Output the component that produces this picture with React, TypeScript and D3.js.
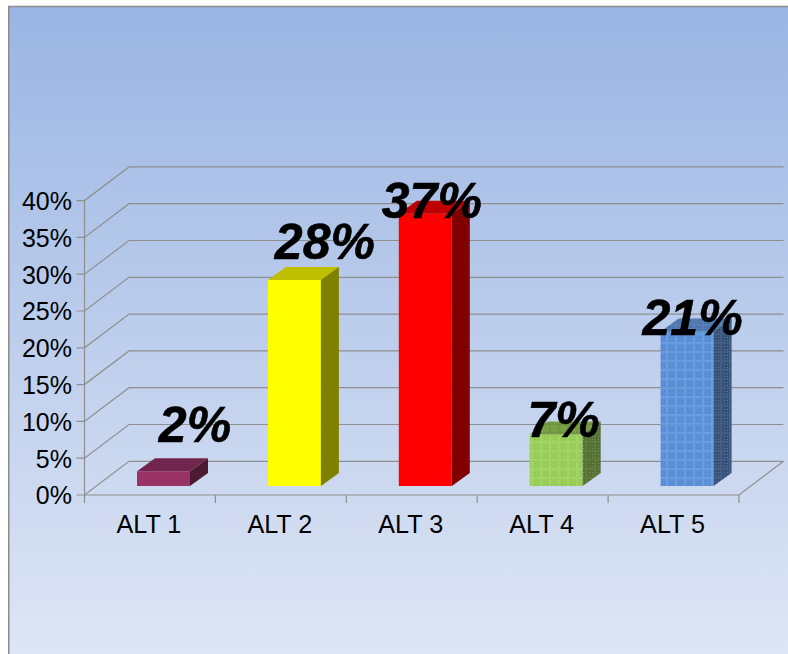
import React from "react";
import * as d3 from "d3";

const categories = ["ALT 1", "ALT 2", "ALT 3", "ALT 4", "ALT 5"];
const values = [2, 28, 37, 7, 21];
const valueTicks = [0, 5, 10, 15, 20, 25, 30, 35, 40];
const frontColors = ["#993366", "#ffff00", "#ff0000", "url(#pg-front)", "url(#pb-front)"];
const topColors = ["#73264d", "#bfbf00", "#bf0000", "url(#pg-top)", "url(#pb-top)"];
const sideColors = ["#4d1a33", "#808000", "#800000", "url(#pg-side)", "url(#pb-side)"];
const barOpacity = [1, 1, 1, 0.93, 0.93];
// hand-placed label offsets of the original, relative to the bar's front centre and top
const labelDx = [31.5, 30.5, 6.5, 7.5, 5.5];
const labelDy = [-29, -21, 4, 3, 4];

const W = 788, H = 654;
const DEPTH_X = 44.5, DEPTH_Y = 33.7;
const BAR_DX = 18, BAR_DY = 13, BAR_SHIFT_Y = 9;
const x = d3.scaleBand<string>().domain(categories).range([84.5, 739]);
const y = d3.scaleLinear().domain([0, 40]).range([495, 200.6]);
const GRID = "#8f8f8f";
const FONT = "'Liberation Sans', Arial, sans-serif";

function Pat({ id, bg, line, dot }: { id: string; bg: string; line: string; dot: string }) {
  return (
    <pattern id={id} width={9} height={9} patternUnits="userSpaceOnUse">
      <rect width={9} height={9} fill={bg} />
      <path d="M0 1H9M1 0V9" stroke={line} strokeWidth={2} opacity={0.5} />
      <path d="M4 4h1v1h-1zM7 4h1v1h-1zM4 7h1v1h-1zM7 7h1v1h-1z" fill={dot} opacity={0.5} />
    </pattern>
  );
}

export default function App() {
  const x0 = x.range()[0], x1 = x.range()[1];
  const y0 = y(0);
  const bw = x.bandwidth();
  return (
    <svg width={W} height={H} style={{ position: "absolute", left: 0, top: 0, display: "block" }} fontFamily={FONT}>
      <defs>
        <linearGradient id="bg" x1="0" y1="0" x2="0" y2="1">
          <stop offset="0" stopColor="#9ab5e3" />
          <stop offset="1" stopColor="#dfe6f5" />
        </linearGradient>
        <Pat id="pg-front" bg="#96cf4e" line="#a8d86c" dot="#7aae3e" />
        <Pat id="pg-top" bg="#729a38" line="#658c30" dot="#93b566" />
        <Pat id="pg-side" bg="#4a6826" line="#638239" dot="#a5bc85" />
        <Pat id="pb-front" bg="#548cd6" line="#72a4e8" dot="#3f74bb" />
        <Pat id="pb-top" bg="#4470a9" line="#5a84ba" dot="#7097c6" />
        <Pat id="pb-side" bg="#2c4870" line="#46648f" dot="#8aa3c4" />
      </defs>
      <rect x={8.75} y={6.5} width={W} height={H} fill="url(#bg)" stroke="#8c8c8c" strokeWidth={1.5} />

      {/* walls: grid and axes */}
      {valueTicks.map((t) => (
        <g key={t} fill="none" stroke={GRID} strokeWidth={1.2}>
          <path d={`M${x0 - 8} ${y(t)}H${x0}L${x0 + DEPTH_X} ${y(t) - DEPTH_Y}H${x1 + DEPTH_X}`} />
        </g>
      ))}
      <path d={`M${x0} ${y(40)}V${y0}H${x1}L${x1 + DEPTH_X} ${y0 - DEPTH_Y}`} fill="none" stroke={GRID} strokeWidth={1.2} />
      {[...categories.map((c) => x(c)!), x1].map((px, i) => (
        <line key={i} x1={px} x2={px} y1={y0} y2={y0 + 8} stroke={GRID} strokeWidth={1.2} />
      ))}

      {/* tick labels */}
      {valueTicks.map((t) => (
        <text key={t} x={72} y={y(t) + 9.3} textAnchor="end" fontSize={25}>{t}%</text>
      ))}
      {categories.map((c) => (
        <text key={c} x={x(c)! + bw / 2 - 1} y={532.5} textAnchor="middle" fontSize={25.2}>{c}</text>
      ))}

      {/* bars */}
      {categories.map((c, i) => {
        const bx = x(c)! + 52.5;
        const bwid = 53;
        const base = y0 - BAR_SHIFT_Y;
        const top = y(values[i]) - BAR_SHIFT_Y;
        return (
          <g key={c} opacity={barOpacity[i]}>
            <rect x={bx} y={top} width={bwid} height={base - top} fill={frontColors[i]} />
            <path d={`M${bx} ${top}l${BAR_DX} ${-BAR_DY}h${bwid}l${-BAR_DX} ${BAR_DY}z`} fill={topColors[i]} />
            <path d={`M${bx + bwid} ${top}l${BAR_DX} ${-BAR_DY}V${base - BAR_DY}L${bx + bwid} ${base}z`} fill={sideColors[i]} />
          </g>
        );
      })}

      {/* data labels */}
      {categories.map((c, i) => (
        <text key={c} x={x(c)! + 52.5 + 26.5 + labelDx[i]} y={y(values[i]) - BAR_SHIFT_Y + labelDy[i]}
          textAnchor="middle" fontSize={50} fontWeight="bold" fontStyle="italic" fill="#000" stroke="#000" strokeWidth={0.6}>{values[i]}%</text>
      ))}
    </svg>
  );
}
